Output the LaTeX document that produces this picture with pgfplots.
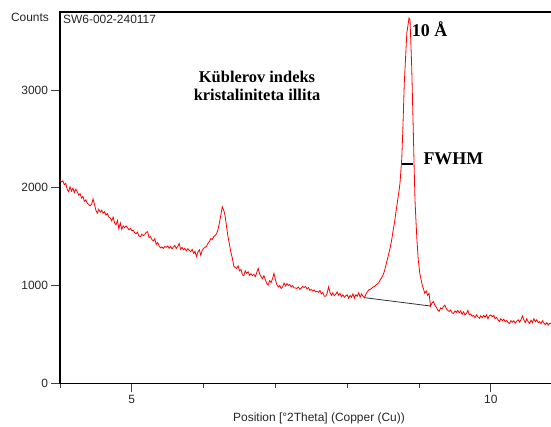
\documentclass[border=0pt]{standalone}
\usepackage{fontspec}
\setmainfont{Liberation Serif}
\setsansfont{Liberation Sans}
\usepackage{pgfplots}
\pgfplotsset{compat=1.18}
\begin{document}
\begin{tikzpicture}
\useasboundingbox (0,0) rectangle (551bp,427bp);
\begin{axis}[
  at={(60bp,43.7bp)}, anchor=south west,
  width=493bp, height=371.3bp, scale only axis,
  xmin=4, xmax=10.866, ymin=0, ymax=3797,
  xtick={5,10}, minor xtick={4,6,7,8,9},
  ytick={0,1000,2000,3000},
  tick align=outside, tick pos=left,
  major tick length=8.5bp, minor tick length=5bp,
  axis line style={line width=1.4bp, black},
  tick style={line width=0.8bp, black!75},
  scaled ticks=false,
  /pgf/number format/1000 sep={},
  /pgf/number format/assume math mode=true,
  tick label style={font=\sffamily\fontsize{12}{14}\selectfont, text=black!85},
  clip=false,
]
\addplot[red, line width=0.8bp] coordinates {
(4.00,2075)(4.02,2060)(4.04,2070)(4.06,2030)(4.08,2045)(4.10,1985)(4.12,1960)(4.14,2010)(4.16,1965)(4.18,1995)
(4.20,1950)(4.22,1985)(4.24,1960)(4.26,1925)(4.28,1940)(4.30,1895)(4.32,1910)(4.34,1860)(4.36,1875)(4.38,1840)
(4.40,1830)(4.42,1815)(4.44,1830)(4.46,1885)(4.48,1830)(4.50,1770)(4.52,1740)(4.54,1780)(4.56,1750)(4.58,1770)
(4.60,1740)(4.62,1755)(4.64,1720)(4.66,1735)(4.68,1700)(4.70,1690)(4.72,1660)(4.74,1700)(4.76,1640)(4.78,1620)
(4.80,1665)(4.82,1580)(4.84,1640)(4.86,1575)(4.88,1610)(4.90,1590)(4.92,1610)(4.94,1590)(4.96,1570)(4.98,1585)
(5.00,1560)(5.02,1565)(5.04,1540)(5.06,1530)(5.08,1545)(5.10,1505)(5.12,1500)(5.14,1525)(5.16,1510)(5.18,1520)
(5.20,1545)(5.22,1550)(5.24,1490)(5.26,1500)(5.28,1470)(5.30,1455)(5.32,1480)(5.34,1420)(5.36,1440)(5.38,1405)
(5.40,1385)(5.42,1395)(5.44,1380)(5.46,1400)(5.48,1390)(5.50,1405)(5.52,1380)(5.54,1400)(5.56,1375)(5.58,1395)
(5.60,1410)(5.62,1380)(5.64,1400)(5.66,1430)(5.68,1370)(5.70,1390)(5.72,1365)(5.74,1380)(5.76,1355)(5.78,1375)
(5.80,1360)(5.82,1345)(5.84,1370)(5.86,1330)(5.88,1350)(5.90,1295)(5.92,1340)(5.94,1365)(5.96,1310)(5.98,1360)
(6.00,1380)(6.02,1390)(6.04,1400)(6.06,1430)(6.08,1450)(6.10,1480)(6.12,1470)(6.14,1500)(6.16,1510)(6.18,1530)
(6.20,1570)(6.22,1640)(6.24,1720)(6.26,1805)(6.28,1770)(6.30,1710)(6.32,1600)(6.34,1500)(6.36,1420)(6.38,1340)
(6.40,1280)(6.42,1200)(6.44,1185)(6.46,1175)(6.48,1200)(6.50,1150)(6.52,1165)(6.54,1110)(6.56,1100)(6.58,1150)
(6.60,1125)(6.62,1140)(6.64,1105)(6.66,1120)(6.68,1100)(6.70,1115)(6.72,1090)(6.74,1130)(6.76,1175)(6.78,1120)
(6.80,1090)(6.82,1070)(6.84,1100)(6.86,1060)(6.88,1020)(6.90,1005)(6.92,1050)(6.94,1030)(6.96,1070)(6.98,1125)
(7.00,1060)(7.02,1010)(7.04,985)(7.06,1000)(7.08,970)(7.10,985)(7.12,1025)(7.14,995)(7.16,1020)(7.18,1000)
(7.20,1010)(7.22,985)(7.24,1000)(7.26,975)(7.28,975)(7.30,970)(7.32,985)(7.34,960)(7.36,975)(7.38,990)
(7.40,980)(7.42,990)(7.44,965)(7.46,980)(7.48,950)(7.50,960)(7.52,945)(7.54,955)(7.56,935)(7.58,940)
(7.60,930)(7.62,950)(7.64,915)(7.66,930)(7.68,890)(7.70,890)(7.72,920)(7.74,985)(7.76,930)(7.78,900)
(7.80,925)(7.82,895)(7.84,910)(7.86,935)(7.88,900)(7.90,920)(7.92,885)(7.94,905)(7.96,880)(7.98,895)
(8.00,905)(8.02,870)(8.04,900)(8.06,880)(8.08,915)(8.10,870)(8.12,905)(8.14,890)(8.16,925)(8.18,880)
(8.20,915)(8.22,890)(8.24,875)(8.26,910)(8.28,935)(8.30,955)(8.32,960)(8.34,970)(8.36,985)(8.38,990)
(8.40,1005)(8.42,1015)(8.44,1030)(8.46,1060)(8.48,1080)(8.50,1110)(8.52,1150)(8.54,1210)(8.56,1270)(8.58,1330)
(8.60,1390)(8.62,1470)(8.64,1565)(8.66,1650)(8.68,1760)(8.70,1860)(8.72,1960)(8.735,2045)(8.75,2200)(8.76,2300)
(8.773,2560)(8.795,3070)(8.83,3580)(8.861,3735)(8.875,3710)(8.898,3240)(8.921,2560)(8.932,2215)(8.944,1875)(8.955,1700)
(8.97,1480)(8.99,1260)(9.01,1130)(9.04,1020)(9.06,970)(9.08,920)(9.10,945)(9.12,900)(9.14,920)(9.16,790)
(9.18,820)(9.20,835)(9.22,800)(9.24,780)(9.26,750)(9.28,735)(9.30,770)(9.32,760)(9.34,785)(9.36,800)
(9.38,765)(9.40,745)(9.42,735)(9.44,750)(9.46,720)(9.48,715)(9.50,740)(9.52,725)(9.54,745)(9.56,720)
(9.58,740)(9.60,705)(9.62,730)(9.64,700)(9.66,715)(9.68,745)(9.70,700)(9.72,710)(9.74,685)(9.76,695)
(9.78,670)(9.80,700)(9.82,680)(9.84,665)(9.86,690)(9.88,670)(9.90,695)(9.92,675)(9.94,700)(9.96,660)
(9.98,690)(10.00,700)(10.02,680)(10.04,695)(10.06,660)(10.08,675)(10.10,650)(10.12,630)(10.14,660)(10.16,640)
(10.18,655)(10.20,630)(10.22,645)(10.24,620)(10.26,612)(10.28,640)(10.30,625)(10.32,640)(10.34,615)(10.36,635)
(10.38,650)(10.40,625)(10.42,650)(10.44,690)(10.46,650)(10.48,620)(10.50,660)(10.52,630)(10.54,612)(10.56,645)
(10.58,620)(10.60,660)(10.62,630)(10.64,650)(10.66,620)(10.68,630)(10.70,610)(10.72,640)(10.74,615)(10.76,600)
(10.78,620)(10.80,595)(10.82,615)(10.84,610)
};
% baseline under the peak
\addplot[black!80, line width=0.8bp] coordinates {(8.248,875)(9.163,790)};
% FWHM bar
\addplot[black, line width=2.6bp] coordinates {(8.759,2242)(8.921,2242)};
\node[anchor=west, font=\bfseries\fontsize{18}{20}\selectfont, inner sep=0pt] at (axis cs:8.898,3618) {10 Å};
\node[anchor=west, font=\bfseries\fontsize{18}{20}\selectfont, inner sep=0pt] at (axis cs:9.06,2293) {FWHM};
\node[align=center, font=\bfseries\fontsize{16.5}{18}\selectfont, inner sep=0pt] at (axis cs:6.744,3040) {Küblerov indeks\\kristaliniteta illita};
\node[anchor=west, font=\sffamily\fontsize{12}{14}\selectfont, text=black!85, inner sep=0pt] at (rel axis cs:0.006,0.981) {SW6-002-240117};
\node[font=\sffamily\fontsize{12}{14}\selectfont, text=black!85, inner sep=0pt] at (rel axis cs:-0.0609,0.9865) {Counts};
\node[font=\sffamily\fontsize{12}{14}\selectfont, text=black!85, inner sep=0pt] at (rel axis cs:0.5254,-0.0935) {Position [°2Theta] (Copper (Cu))};
\end{axis}
\end{tikzpicture}
\end{document}
